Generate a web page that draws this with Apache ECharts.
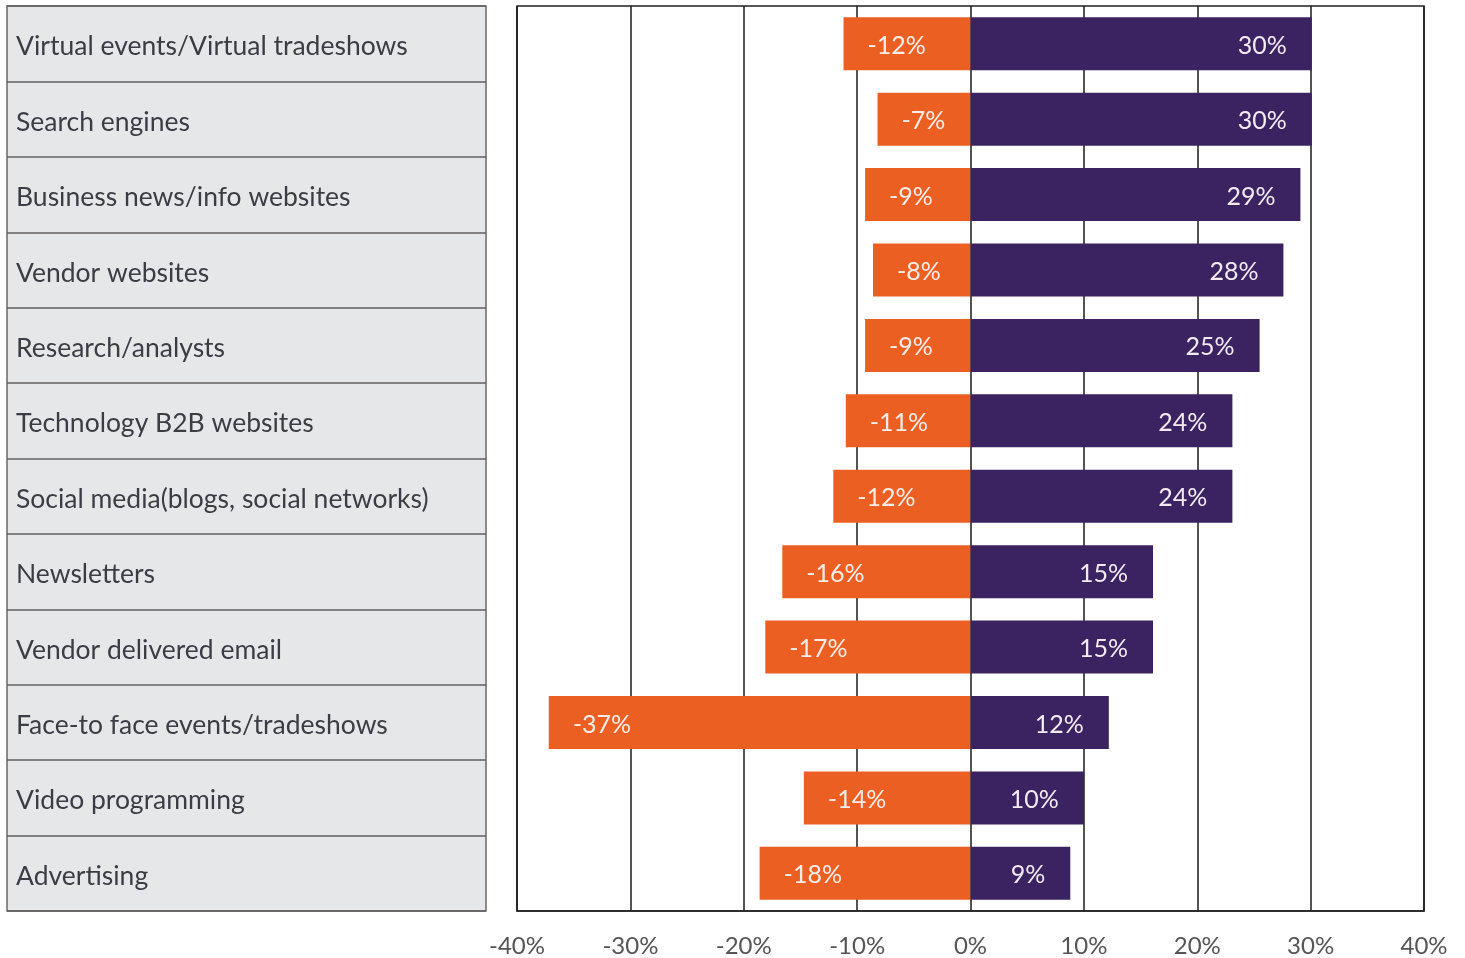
<!DOCTYPE html>
<html><head><meta charset="utf-8">
<script src="https://cdn.jsdelivr.net/npm/echarts@6/dist/echarts.min.js"></script>
<style>html,body{margin:0;padding:0;background:#fff}#c{width:1465px;height:958px}</style>
</head><body><div id="c"></div>
<script>
const categories = ["Virtual events/Virtual tradeshows","Search engines","Business news/info websites","Vendor websites","Research/analysts","Technology B2B websites","Social media(blogs, social networks)","Newsletters","Vendor delivered email","Face-to face events/tradeshows","Video programming","Advertising"];
// bar lengths as drawn in the picture
const decreaseValues = [-11.2,-8.2,-9.3,-8.6,-9.3,-11.0,-12.1,-16.6,-18.1,-37.2,-14.7,-18.6];
const increaseValues = [30.1,30.1,29.1,27.6,25.5,23.1,23.1,16.1,16.1,12.2,10.0,8.8];
// printed labels
const decreaseLabels = ["-12%","-7%","-9%","-8%","-9%","-11%","-12%","-16%","-17%","-37%","-14%","-18%"];
const increaseLabels = ["30%","30%","29%","28%","25%","24%","24%","15%","15%","12%","10%","9%"];
const xTicks = {min:-40, max:40, interval:10};

const FONT = 'Lato, "Open Sans", sans-serif';
const chart = echarts.init(document.getElementById('c'));
chart.setOption({
  animation:false,
  grid:[
    {left:7, top:6, width:479, height:905, show:true, backgroundColor:'#e6e7e9', borderColor:'#6a6a6a', borderWidth:1.5},
    {left:517, top:6, width:907, height:905, show:true, backgroundColor:'#fff', borderColor:'#222', borderWidth:1.5}
  ],
  xAxis:[
    {gridIndex:0, type:'value', min:0, max:1, show:false},
    {gridIndex:1, type:'value', min:xTicks.min, max:xTicks.max, interval:xTicks.interval,
     axisLine:{show:true, lineStyle:{color:'#222', width:1.5}}, axisTick:{show:false},
     splitLine:{show:true, lineStyle:{color:'#1a1a1a', width:1.5}},
     axisLabel:{formatter:'{value}%', margin:23, fontSize:24, color:'#555', fontFamily:FONT}}
  ],
  yAxis:[
    {gridIndex:0, type:'category', data:categories, inverse:true,
     axisLine:{show:false}, axisTick:{show:false},
     splitLine:{show:true, lineStyle:{color:'#5f5f5f', width:1.5}},
     axisLabel:{inside:true, margin:9, fontSize:26.5, color:'#3c3d44', fontFamily:FONT,
                formatter:v=>'{t|' + v + '}',
                rich:{t:{fontSize:26.5, color:'#3c3d44', fontFamily:FONT, padding:[6,0,0,0]}}}},
    {gridIndex:1, type:'category', data:categories, inverse:true,
     axisLine:{show:false}, axisTick:{show:false}, axisLabel:{show:false}, splitLine:{show:false}}
  ],
  series:[
    {type:'bar', xAxisIndex:1, yAxisIndex:1, data:decreaseValues, barWidth:53, barGap:'-100%',
     itemStyle:{color:'#ec5f22'},
     label:{show:true, position:'insideLeft', distance:24, fontSize:25, color:'#f8ece8', fontFamily:FONT,
            offset:[0,2], formatter:p=>decreaseLabels[p.dataIndex]}},
    {type:'bar', xAxisIndex:1, yAxisIndex:1, data:increaseValues, barWidth:53, barGap:'-100%',
     itemStyle:{color:'#3a2360'},
     label:{show:true, position:'insideRight', distance:25, fontSize:25, color:'#f3eaf3', fontFamily:FONT,
            offset:[0,2], formatter:p=>increaseLabels[p.dataIndex]}}
  ]
});
</script></body></html>
